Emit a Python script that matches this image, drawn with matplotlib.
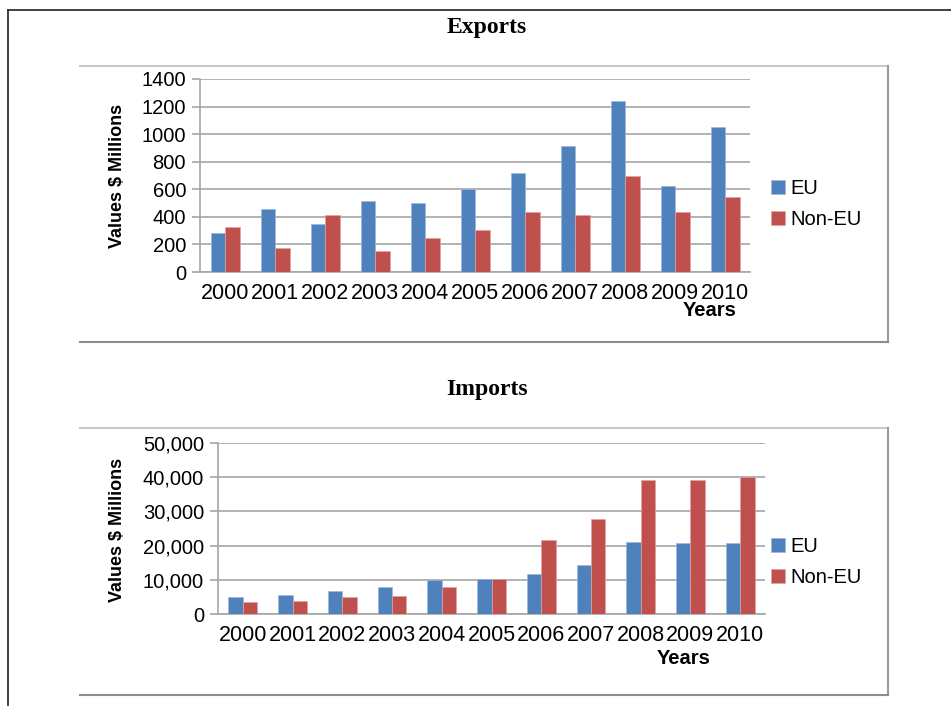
import numpy as np
import matplotlib.pyplot as plt
from matplotlib.lines import Line2D
from matplotlib.ticker import FuncFormatter

# -----------------------------
# Data
# -----------------------------
years = ["2000", "2001", "2002", "2003", "2004", "2005",
         "2006", "2007", "2008", "2009", "2010"]

exports_eu = [280, 460, 345, 515, 500, 600, 720, 915, 1240, 625, 1055]
exports_non_eu = [325, 175, 410, 155, 250, 305, 435, 415, 695, 435, 545]

imports_eu = [5000, 5700, 6700, 7900, 10000, 10200, 11800, 14300, 21100, 20800, 20700]
imports_non_eu = [3500, 3700, 5000, 5400, 7900, 10100, 21600, 27700, 39300, 39100, 40100]

# -----------------------------
# Style
# -----------------------------
W, H = 951, 706
BLUE = "#4F81BD"
RED = "#C0504D"
GRID = "#A6A6A6"
SANS = "Liberation Sans"
SERIF = "Liberation Serif"

fig = plt.figure(figsize=(W / 100, H / 100), dpi=100)


def px_axes(left, right, top, bottom):
    """Axes placed by pixel edges (y measured from the top)."""
    return fig.add_axes([left / W, (H - bottom) / H, (right - left) / W, (bottom - top) / H])


def fig_line(xs, ys, color, lw):
    fig.add_artist(Line2D([x / W for x in xs], [1 - y / H for y in ys],
                          transform=fig.transFigure, color=color, lw=lw))


def bar_panel(ax, eu, non_eu, ymax, step, fmt):
    x = np.arange(len(years))
    w = 0.29
    ax.bar(x - w / 2, eu, w, color=BLUE, edgecolor="#9DB7DA", linewidth=0.5, label="EU", zorder=3)
    ax.bar(x + w / 2, non_eu, w, color=RED, edgecolor="#E0A3A1", linewidth=0.5, label="Non-EU", zorder=3)
    ax.set_xlim(-0.5, len(years) - 0.5)
    ax.set_ylim(0, ymax)
    ax.set_yticks(np.arange(0, ymax + 1, step))
    ax.yaxis.set_major_formatter(FuncFormatter(fmt))
    ax.set_xticks(x)
    ax.set_xticklabels(years)
    ax.grid(axis="y", color=GRID, lw=1.2, zorder=0)
    for s in ("top", "right"):
        ax.spines[s].set_visible(False)
    ax.spines["left"].set_color(GRID)
    ax.spines["bottom"].set_color(GRID)
    ax.spines["left"].set_linewidth(1.2)
    ax.spines["bottom"].set_linewidth(1.2)
    ax.tick_params(axis="y", length=6, color=GRID, width=1.2, labelsize=14.5, pad=4)
    ax.tick_params(axis="x", length=0, labelsize=15.5, pad=8)
    for lab in ax.get_xticklabels() + ax.get_yticklabels():
        lab.set_fontfamily(SANS)
    ax.set_facecolor("white")


def add_legend(ax, y_px):
    ax.legend(loc="center left", bbox_to_anchor=(753 / W, 1 - y_px / H), bbox_transform=fig.transFigure,
              frameon=False, handlelength=0.7, handleheight=0.7, handletextpad=0.25,
              labelspacing=0.6, prop={"family": SANS, "size": 14.5})


# page frame
fig_line([8, 8], [10, 706], "#333333", 1.3)
fig_line([8, 951], [10, 10], "#333333", 1.3)

# chart area borders
for top, bottom in ((66, 342), (428, 695)):
    fig_line([80, 888], [top, top], "#C8C8C8", 1.5)
    fig_line([888, 888], [top, bottom], "#9A9A9A", 1.5)
    fig_line([80, 888], [bottom, bottom], "#8C8C8C", 1.5)

# -----------------------------
# Exports
# -----------------------------
ax1 = px_axes(200, 750, 79, 272)
bar_panel(ax1, exports_eu, exports_non_eu, 1400, 200, lambda v, p: f"{int(v)}")
fig.text(487 / W, 1 - 27 / H, "Exports", ha="center", va="center",
         fontsize=17, fontweight="bold", family=SERIF)
fig.text(117 / W, 1 - 176 / H, "Values $ Millions", rotation=90, ha="center", va="center",
         fontsize=13, fontweight="bold", family=SANS)
fig.text(737 / W, 1 - 311 / H, "Years", ha="right", va="center",
         fontsize=14.5, fontweight="bold", family=SANS)
add_legend(ax1, 204)

# -----------------------------
# Imports
# -----------------------------
ax2 = px_axes(218, 765, 443, 614)
bar_panel(ax2, imports_eu, imports_non_eu, 50000, 10000, lambda v, p: f"{int(v):,}")
fig.text(487 / W, 1 - 389 / H, "Imports", ha="center", va="center",
         fontsize=17, fontweight="bold", family=SERIF)
fig.text(117 / W, 1 - 530 / H, "Values $ Millions", rotation=90, ha="center", va="center",
         fontsize=13, fontweight="bold", family=SANS)
fig.text(711 / W, 1 - 659 / H, "Years", ha="right", va="center",
         fontsize=14.5, fontweight="bold", family=SANS)
add_legend(ax2, 562)

fig.savefig("out.png", dpi=100, facecolor="white")
